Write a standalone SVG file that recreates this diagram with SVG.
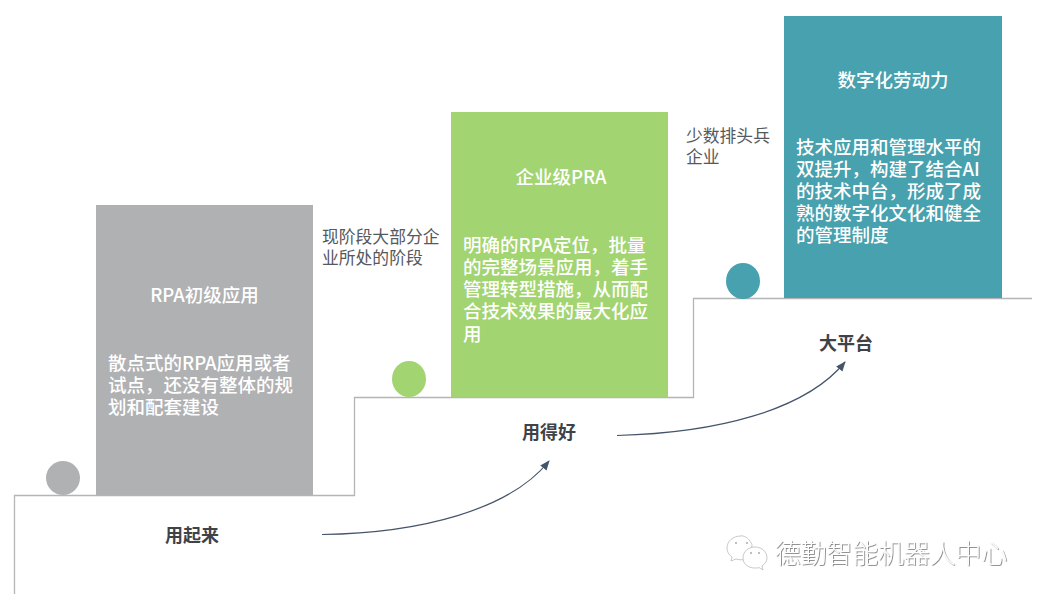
<svg xmlns="http://www.w3.org/2000/svg" width="1042" height="600" viewBox="0 0 1042 600">
<defs>
<marker id="arrow" markerWidth="12" markerHeight="10" refX="9" refY="4" orient="auto" markerUnits="userSpaceOnUse"><path d="M0 0L10 4L0 8Z" fill="#44546a"/></marker>
<filter id="emboss" x="-5%" y="-20%" width="110%" height="140%"><feDropShadow dx="0.8" dy="0.8" stdDeviation="0.35" flood-color="#777"/></filter>
</defs>
<style>
text{font-family:"Noto Sans CJK SC","Noto Sans",sans-serif}
.t{fill:#fff;font-size:18.500px;font-weight:500}
.c{text-anchor:middle}
.note{fill:#55585c;font-size:16.800px}
.stage{fill:#3f4347;font-size:18px;font-weight:700;text-anchor:middle}
.wm{font-size:25.800px;font-weight:300;fill:#fff}
.bubble{fill:#fff;stroke:#bbb;stroke-width:.8}
.eye{fill:#aaa}
</style>
<rect width="1042" height="600" fill="#fff"/>
<g id="connectors" fill="none">
<path id="stairs" d="M14.500 594V495.500H354.500V397.500H693.500V298.500H1032" stroke="#b4b5b7" stroke-width="1.300"/>
<path d="M322 534.500C420 533 510 510 549 461" stroke="#44546a" stroke-width="1.200" marker-end="url(#arrow)"/>
<path d="M617 435.500C715 433 805 411 845 362" stroke="#44546a" stroke-width="1.200" marker-end="url(#arrow)"/>
</g>
<g id="node-rpa">
<circle cx="63" cy="478" r="17" fill="#b0b1b3"/>
<rect x="96" y="205" width="217" height="290" fill="#b0b1b3"/>
<text class="t c" x="204.500" y="302">RPA初级应用</text>
<text class="t" x="108" y="370">散点式的RPA应用或者</text>
<text class="t" x="108" y="392">试点，还没有整体的规</text>
<text class="t" x="108" y="414">划和配套建设</text>
</g>
<g id="node-enterprise">
<ellipse cx="409" cy="379" rx="17" ry="18" fill="#a2d471"/>
<rect x="451" y="112" width="217" height="285" fill="#a2d471"/>
<text class="t c" x="561" y="184">企业级PRA</text>
<text class="t" x="463" y="252">明确的RPA定位，批量</text>
<text class="t" x="463" y="274">的完整场景应用，着手</text>
<text class="t" x="463" y="296">管理转型措施，从而配</text>
<text class="t" x="463" y="318">合技术效果的最大化应</text>
<text class="t" x="463" y="341">用</text>
</g>
<g id="node-digital">
<ellipse cx="743" cy="281" rx="17" ry="18" fill="#47a1ae"/>
<rect x="784" y="16" width="218" height="282" fill="#47a1ae"/>
<text class="t c" x="893" y="87">数字化劳动力</text>
<text class="t" x="796" y="154">技术应用和管理水平的</text>
<text class="t" x="796" y="176">双提升，构建了结合AI</text>
<text class="t" x="796" y="198">的技术中台，形成了成</text>
<text class="t" x="796" y="220">熟的数字化文化和健全</text>
<text class="t" x="796" y="242">的管理制度</text>
</g>
<g id="note-majority">
<text class="note" x="322" y="243">现阶段大部分企</text>
<text class="note" x="322" y="264">业所处的阶段</text>
</g>
<g id="note-leaders">
<text class="note" x="686" y="142">少数排头兵</text>
<text class="note" x="686" y="163">企业</text>
</g>
<g id="stage-start"><text class="stage" x="192" y="542">用起来</text></g>
<g id="stage-good"><text class="stage" x="549" y="439">用得好</text></g>
<g id="stage-platform"><text class="stage" x="846" y="350">大平台</text></g>
<g id="watermark">
<path class="bubble" d="M741 536c-8 0-14 5-14 12 0 4 2 7 5 9l-1 4 5-2c2 .6 4 .9 6 .8 4 0 7-1 9-3l1-12c-2-5-6-9-11-9z"/>
<circle class="eye" cx="736" cy="543" r="1"/><circle class="eye" cx="747" cy="543" r="1"/>
<path class="bubble" d="M755 547c-7 0-12 5-12 11s5 10 12 10c2 0 3 0 4-.5l4 2.500-1-4c3-2 5-5 5-8 0-6-5-11-12-11z"/>
<circle class="eye" cx="751" cy="553" r="1"/><circle class="eye" cx="759" cy="553" r="1"/>
<text class="wm" x="775" y="563" filter="url(#emboss)">德勤智能机器人中心</text>
</g>
</svg>
